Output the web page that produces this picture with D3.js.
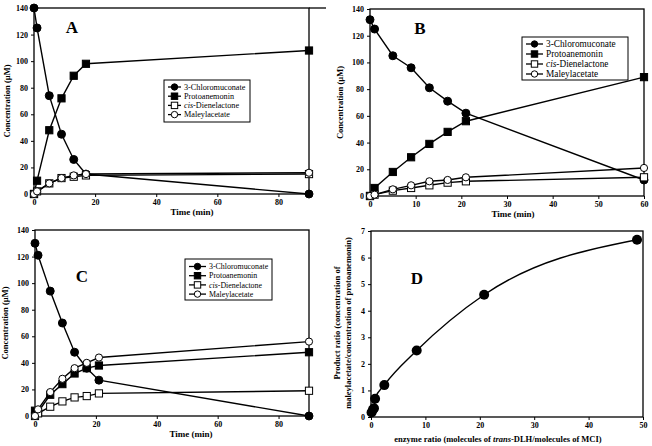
<!DOCTYPE html>
<html><head><meta charset="utf-8">
<script src="https://cdn.jsdelivr.net/npm/d3@7"></script>
<style>body{margin:0;background:#fff}svg{display:block}text{font-family:"Liberation Serif","Times New Roman",serif}</style>
</head><body><svg id="c" width="652" height="446"></svg>
<script>
const seriesNames = ["3-Chloromuconate","Protoanemonin","cis-Dienelactone","Maleylacetate"];
const markerTypes = ["filledCircle","filledSquare","openSquare","openCircle"];

const timeA = [0,1,5,9,13,17,90];
const chloroA = [140,125,74,45,26,15,0];
const protoA = [0,10,48,72,89,98,108];
const cisA = [0,2,8,12,13,14,15];
const maleylA = [0,2,8,12,14,15,16];

const timeB = [0,1,5,9,13,17,21,60];
const chloroB = [132,125,105,96,81,71,62,12];
const protoB = [0,6,18,29,39,48,56,89];
const cisB = [0,1,4,6,8,10,11,14];
const maleylB = [0,1,5,8,11,12,14,21];

const timeC = [0,1,5,9,13,17,21,90];
const chloroC = [130,121,94,70,48,36,27,0];
const protoC = [4,3,16,24,32,36,38,48];
const cisC = [0,2,7,11,14,15,17,19];
const maleylC = [0,5,18,28,36,40,44,56];

const enzymeRatioD = [0.1,0.35,0.55,0.75,2.45,8.4,20.8,48.9];
const productRatioD = [0.17,0.27,0.33,0.69,1.2,2.5,4.6,6.67];

const timeTicksAC = [0,20,40,60,80];
const timeTicksB = [0,10,20,30,40,50,60];
const concTicks = [0,20,40,60,80,100,120,140];
const ratioTicksX = [0,10,20,30,40,50];
const ratioTicksY = [0,1,2,3,4,5,6,7];

const svg = d3.select("#c");
const fmt = d3.format("d");

function axes(g, x, y, xt, yt, opts) {
  const [x0,x1] = x.range(), [y0,y1] = y.range();
  g.append("g").attr("transform",`translate(0,${y0})`)
    .call(d3.axisBottom(x).tickValues(xt).tickFormat(fmt).tickSize(3).tickSizeOuter(0).tickPadding(2))
    .call(a=>a.select(".domain").remove());
  g.append("g").attr("transform",`translate(${x0},0)`)
    .call(d3.axisLeft(y).tickValues(yt).tickFormat(fmt).tickSize(3).tickSizeOuter(0).tickPadding(3))
    .call(a=>a.select(".domain").remove());
  g.selectAll(".tick text").attr("font-size",8).attr("font-weight","bold").attr("fill","#000")
    .style("font-family","'Liberation Serif',serif");
  g.selectAll(".tick line").attr("stroke","#000");
  g.append("rect").attr("x",x0).attr("y",y1).attr("width",x1-x0).attr("height",y0-y1)
    .attr("fill","none").attr("stroke","#000").attr("stroke-width",1.3);
  if (opts && opts.topExtend) g.append("line").attr("x1",x1).attr("x2",opts.topExtend)
    .attr("y1",y1).attr("y2",y1).attr("stroke","#000").attr("stroke-width",1.3);
}

function marker(g, type, cx, cy, s) {
  if (type.endsWith("Circle")) {
    g.append("circle").attr("cx",cx).attr("cy",cy).attr("r",s)
      .attr("fill", type==="filledCircle"?"#000":"#fff").attr("stroke","#000").attr("stroke-width",1);
  } else {
    g.append("rect").attr("x",cx-s).attr("y",cy-s).attr("width",2*s).attr("height",2*s)
      .attr("fill", type==="filledSquare"?"#000":"#fff").attr("stroke","#000").attr("stroke-width",1);
  }
}

function timePanel(cfg) {
  const g = svg.append("g");
  const x = d3.scaleLinear().domain(cfg.xDomain).range(cfg.xRange);
  const y = d3.scaleLinear().domain([0,140]).range(cfg.yRange);
  axes(g, x, y, cfg.xTicks, concTicks, cfg);
  const line = d3.line().x(d=>x(d[0])).y(d=>y(d[1]));
  cfg.series.forEach(vals=>{
    g.append("path").attr("d", line(cfg.time.map((t,i)=>[t,vals[i]])))
      .attr("fill","none").attr("stroke","#000").attr("stroke-width",1.4);
  });
  cfg.series.forEach((vals,k)=>{
    cfg.time.forEach((t,i)=>marker(g, markerTypes[k], x(t), y(vals[i]), k===0?4:3.6));
  });
  g.append("text").attr("x",cfg.letterPos[0]).attr("y",cfg.letterPos[1]).attr("text-anchor","middle")
    .attr("font-size",17).attr("font-weight","bold").text(cfg.letter);
  g.append("text").attr("x",cfg.xTitleX).attr("y",cfg.yRange[0]+21)
    .attr("text-anchor","middle").attr("font-size",9).attr("font-weight","bold").text("Time (min)");
  g.append("text").attr("transform",`translate(${cfg.yTitleX},${(cfg.yRange[0]+cfg.yRange[1])/2}) rotate(-90)`)
    .attr("text-anchor","middle").attr("font-size",8.5).attr("font-weight","bold").text("Concentration (µM)");
  const L = cfg.legend;
  g.append("rect").attr("x",L.x).attr("y",L.y).attr("width",L.w).attr("height",L.h)
    .attr("fill","#fff").attr("stroke","#000").attr("stroke-width",1);
  seriesNames.forEach((name,k)=>{
    const ry = L.y + L.top + k*L.dy;
    g.append("line").attr("x1",L.x+4).attr("x2",L.x+4+L.lineW).attr("y1",ry).attr("y2",ry)
      .attr("stroke","#000").attr("stroke-width",1.3);
    marker(g, markerTypes[k], L.x+4+L.lineW/2, ry, 3.2);
    const t = g.append("text").attr("x",L.x+L.lineW+7).attr("y",ry+L.fs*0.33).attr("font-size",L.fs);
    if (name.startsWith("cis-")) {
      t.append("tspan").attr("font-style","italic").text("cis");
      t.append("tspan").text(name.slice(3));
    } else t.text(name);
  });
}

timePanel({letter:"A", letterPos:[72,33], time:timeA, series:[chloroA,protoA,cisA,maleylA],
  xDomain:[0,90], xRange:[34,309], yRange:[194,8], xTicks:timeTicksAC, topExtend:326, yTitleX:10, xTitleX:192,
  legend:{x:164,y:80,w:86,h:42,top:7,dy:9.2,lineW:13,fs:8.2}});
timePanel({letter:"B", letterPos:[420,34], time:timeB, series:[chloroB,protoB,cisB,maleylB],
  xDomain:[0,60], xRange:[370,644], yRange:[196,9], xTicks:timeTicksB, yTitleX:343, xTitleX:513,
  legend:{x:522,y:37,w:106,h:43,top:7,dy:10,lineW:17,fs:9.3}});
timePanel({letter:"C", letterPos:[82,282], time:timeC, series:[chloroC,protoC,cisC,maleylC],
  xDomain:[0,90], xRange:[35,309], yRange:[416,230], xTicks:timeTicksAC, yTitleX:8, xTitleX:191,
  legend:{x:185,y:259,w:87,h:41,top:7.5,dy:9.2,lineW:17,fs:7.9}});

(function(){
  const g = svg.append("g");
  const x = d3.scaleLinear().domain([0,50]).range([371,643]);
  const y = d3.scaleLinear().domain([0,7]).range([417,231]);
  axes(g, x, y, ratioTicksX, ratioTicksY);
  const pts = enzymeRatioD.map((v,i)=>[v,productRatioD[i]]);
  g.append("path").attr("d", d3.line().x(d=>x(d[0])).y(d=>y(d[1])).curve(d3.curveMonotoneX)(pts))
    .attr("fill","none").attr("stroke","#000").attr("stroke-width",1.4);
  pts.forEach(p=>g.append("circle").attr("cx",x(p[0])).attr("cy",y(p[1])).attr("r",5).attr("fill","#000"));
  g.append("text").attr("x",417).attr("y",284).attr("text-anchor","middle")
    .attr("font-size",17).attr("font-weight","bold").text("D");
  const xt = g.append("text").attr("x",498).attr("y",442).attr("text-anchor","middle")
    .attr("font-size",8.5).attr("font-weight","bold");
  xt.append("tspan").text("enzyme ratio (molecules of ");
  xt.append("tspan").attr("font-style","italic").text("trans");
  xt.append("tspan").text("-DLH/molecules of MCI)");
  g.append("text").attr("transform","translate(340,323) rotate(-90)").attr("text-anchor","middle")
    .attr("font-size",8.5).attr("font-weight","bold").text("Product ratio (concentration of");
  g.append("text").attr("transform","translate(351,323) rotate(-90)").attr("text-anchor","middle")
    .attr("font-size",8.5).attr("font-weight","bold").text("maleylacetate/concentration of protoanemonin)");
})();
</script></body></html>
